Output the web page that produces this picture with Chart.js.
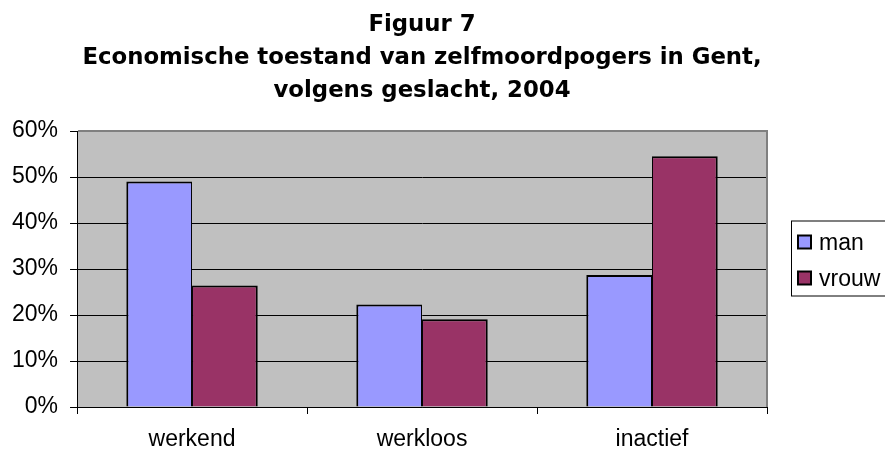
<!DOCTYPE html>
<html>
<head>
<meta charset="utf-8">
<script src="https://cdn.jsdelivr.net/npm/chart.js@4"></script>
<style>
  html, body { margin: 0; padding: 0; background: #fff; }
  #wrap { width: 885px; height: 452px; }
</style>
</head>
<body>
<div id="wrap"><canvas id="suicideChart" width="885" height="452"></canvas></div>
<script>
// chart data
const categories = ['werkend', 'werkloos', 'inactief'];
const seriesNames = ['man', 'vrouw'];
const manValues = [0.49, 0.223, 0.287];
const vrouwValues = [0.264, 0.191, 0.545];
const yTicks = [0, 0.1, 0.2, 0.3, 0.4, 0.5, 0.6];
const titleLines = ['Figuur 7', 'Economische toestand van zelfmoordpogers in Gent,', 'volgens geslacht, 2004'];

const colors = ['#9999FF', '#993366'];
const fontFamily = '"Liberation Sans", Arial, sans-serif';

// gray plot background + gray top/right border like the old Excel chart
const plotFrame = {
  id: 'plotFrame',
  beforeDraw(chart) {
    const { ctx, chartArea: a } = chart;
    ctx.save();
    ctx.fillStyle = '#C0C0C0';
    ctx.fillRect(a.left, a.top, a.right - a.left, a.bottom - a.top);
    ctx.restore();
  },
  afterDraw(chart) {
    const { ctx, chartArea: a } = chart;
    ctx.save();
    ctx.strokeStyle = '#808080';
    ctx.lineWidth = 2;
    ctx.beginPath();
    ctx.moveTo(a.left + 1, a.top);
    ctx.lineTo(a.right, a.top);
    ctx.lineTo(a.right, a.bottom);
    ctx.stroke();
    ctx.restore();
  }
};

// legend drawn in a box to the right of the plot
const boxLegend = {
  id: 'boxLegend',
  afterDraw(chart) {
    const { ctx, chartArea: a } = chart;
    const left = a.right + 24;
    const height = 75;
    const top = (a.top + a.bottom) / 2 - 11 - height / 2;
    ctx.save();
    ctx.strokeStyle = '#000';
    ctx.lineWidth = 1;
    ctx.strokeRect(left + 0.5, top + 0.5, 200, height);
    ctx.font = '23px ' + fontFamily;
    ctx.textBaseline = 'middle';
    chart.data.datasets.forEach((ds, i) => {
      const cy = top + 22 + i * 36;
      ctx.fillStyle = ds.backgroundColor;
      ctx.fillRect(left + 7, cy - 7, 13, 13);
      ctx.strokeStyle = '#000';
      ctx.lineWidth = 2;
      ctx.strokeRect(left + 7, cy - 7, 13, 13);
      ctx.fillStyle = '#000';
      ctx.fillText(ds.label, left + 28, cy + 1);
    });
    ctx.restore();
  }
};

const ctx = document.getElementById('suicideChart').getContext('2d');
const suicideChart = new Chart(ctx, {
  type: 'bar',
  data: {
    labels: categories,
    datasets: [
      {
        label: seriesNames[0], data: manValues, backgroundColor: colors[0],
        borderWidth: { left: 2, right: 1, top: 2, bottom: 0 }
      },
      {
        label: seriesNames[1], data: vrouwValues, backgroundColor: colors[1],
        borderWidth: { left: 1, right: 2, top: 2, bottom: 0 }
      }
    ]
  },
  options: {
    responsive: false,
    animation: false,
    devicePixelRatio: 1,
    layout: { padding: { left: 0, right: 118, top: 0, bottom: 0 } },
    datasets: {
      bar: {
        borderColor: '#000',
        categoryPercentage: 2 / 3.5,
        barPercentage: 1
      }
    },
    plugins: {
      legend: { display: false },
      tooltip: { enabled: false },
      title: {
        display: true,
        text: titleLines,
        fullSize: false,
        color: '#000',
        font: { family: '"DejaVu Sans", Arial, sans-serif', size: 22.8, weight: 'bold', lineHeight: '33px' },
        padding: { top: 9, bottom: 23 }
      }
    },
    scales: {
      x: {
        afterFit: scale => { scale.height = 45; },
        grid: {
          offset: true,
          drawOnChartArea: false,
          drawTicks: true,
          tickLength: 7,
          color: '#000'
        },
        border: { color: '#000', width: 1 },
        ticks: {
          color: '#000',
          padding: 12,
          font: { family: fontFamily, size: 23 }
        }
      },
      y: {
        min: yTicks[0],
        max: yTicks[yTicks.length - 1],
        grid: { color: '#000', tickLength: 7, lineWidth: 1 },
        border: { color: '#000', width: 1 },
        afterBuildTicks: scale => { scale.ticks = yTicks.map(v => ({ value: v })); },
        ticks: {
          color: '#000',
          padding: 12,
          font: { family: fontFamily, size: 23 },
          callback: v => Math.round(v * 100) + '%'
        }
      }
    }
  },
  plugins: [plotFrame, boxLegend]
});
</script>
</body>
</html>
